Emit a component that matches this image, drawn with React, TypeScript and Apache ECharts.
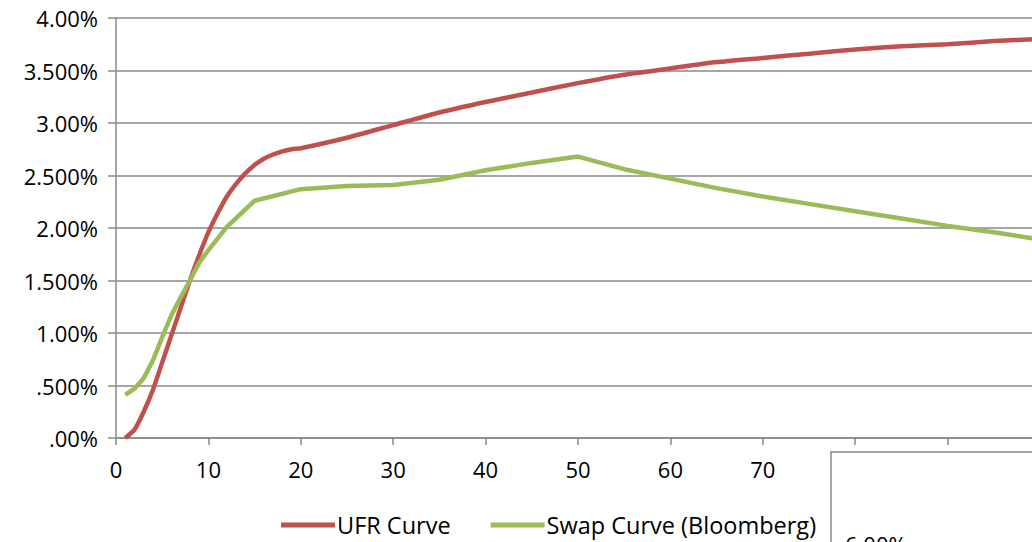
import React, { useEffect, useRef } from "react";
import * as echarts from "echarts";

// Maturities (years) and rates (%) for the UFR-extrapolated curve
const ufrYears = [1, 2, 3, 4, 5, 6, 7, 8, 9, 10, 11, 12, 13, 14, 15, 16, 17, 18, 19, 20, 25, 30, 35, 40, 45, 50, 55, 60, 65, 70, 75, 80, 85, 90, 95, 100];
const ufrRates = [0.0, 0.08, 0.25, 0.46, 0.72, 0.98, 1.24, 1.5, 1.74, 1.96, 2.14, 2.3, 2.42, 2.52, 2.6, 2.66, 2.7, 2.73, 2.75, 2.76, 2.86, 2.98, 3.1, 3.2, 3.29, 3.38, 3.46, 3.52, 3.58, 3.62, 3.66, 3.7, 3.73, 3.75, 3.78, 3.8];

// Market swap curve quoted by Bloomberg
const swapYears = [1, 2, 3, 4, 5, 6, 7, 8, 9, 10, 12, 15, 20, 25, 30, 35, 40, 45, 50, 55, 60, 65, 70, 75, 80, 85, 90, 95, 100];
const swapRates = [0.41, 0.47, 0.57, 0.74, 0.96, 1.17, 1.34, 1.5, 1.67, 1.79, 2.01, 2.26, 2.37, 2.4, 2.41, 2.46, 2.55, 2.62, 2.68, 2.56, 2.47, 2.38, 2.3, 2.23, 2.16, 2.09, 2.02, 1.96, 1.89];

const yTickLabels = [".00%", ".500%", "1.00%", "1.500%", "2.00%", "2.500%", "3.00%", "3.500%", "4.00%"];
const xTickLabels = ["0", "10", "20", "30", "40", "50", "60", "70", "80", "90", ""];

const seriesNames = ["UFR Curve", "Swap Curve (Bloomberg)"];

const FONT = "'Open Sans', sans-serif";
const GRID_GRAY = "#898989";

// The canvas is wider than the window so the plot runs past the right edge.
const CANVAS_W = 1080;
const CANVAS_H = 542;

export default function App() {
  const ref = useRef<HTMLDivElement>(null);

  useEffect(() => {
    if (!ref.current) return;
    const chart = echarts.init(ref.current, undefined, { renderer: "svg" });
    chart.setOption({
      animation: false,
      backgroundColor: "#ffffff",
      textStyle: { fontFamily: FONT },
      grid: { left: 116, top: 18, right: CANVAS_W - 1040, bottom: 104, containLabel: false },
      legend: {
        bottom: 0,
        left: 276,
        icon: "rect",
        itemWidth: 54,
        itemHeight: 5,
        itemGap: 40,
        textStyle: { fontFamily: FONT, fontSize: 23.5, color: "#000", padding: [0, 0, 0, -3] },
        data: seriesNames,
      },
      xAxis: {
        type: "value",
        min: 0,
        max: 100,
        interval: 10,
        axisLine: { show: true, lineStyle: { color: GRID_GRAY, width: 1.5 } },
        axisTick: { show: true, length: 7, lineStyle: { color: GRID_GRAY, width: 1.5 } },
        axisLabel: {
          color: "#000",
          fontSize: 22,
          fontFamily: FONT,
          margin: 20,
          formatter: (v: number) => xTickLabels[Math.round(v / 10)] ?? "",
        },
        splitLine: { show: false },
      },
      yAxis: {
        type: "value",
        min: 0,
        max: 4,
        interval: 0.5,
        axisLine: { show: true, lineStyle: { color: GRID_GRAY, width: 1.5 } },
        axisTick: { show: true, length: 8, lineStyle: { color: GRID_GRAY, width: 1.5 } },
        axisLabel: {
          color: "#000",
          fontSize: 22,
          fontFamily: FONT,
          margin: 18,
          formatter: (v: number) => yTickLabels[Math.round(v / 0.5)] ?? "",
        },
        splitLine: { show: true, lineStyle: { color: GRID_GRAY, width: 1.5 } },
      },
      series: [
        {
          name: seriesNames[0],
          type: "line",
          data: ufrYears.map((y, i) => [y, ufrRates[i]]),
          showSymbol: false,
          symbol: "none",
          lineStyle: { color: "#C0504D", width: 4.5 },
          itemStyle: { color: "#C0504D" },
          smooth: 0.2,
        },
        {
          name: seriesNames[1],
          type: "line",
          data: swapYears.map((y, i) => [y, swapRates[i]]),
          showSymbol: false,
          symbol: "none",
          lineStyle: { color: "#9BBB59", width: 4.5 },
          itemStyle: { color: "#9BBB59" },
        },
      ],
      graphic: [
        // Neighbouring chart panel overlapping the lower right corner
        {
          type: "rect",
          z: 100,
          shape: { x: 831, y: 452, width: 300, height: 150 },
          style: { fill: "#ffffff", stroke: GRID_GRAY, lineWidth: 1.5 },
        },
        {
          type: "text",
          z: 101,
          x: 845,
          y: 533,
          style: { text: "6.00%", font: `22px ${FONT}`, fill: "#000", textVerticalAlign: "top" },
        },
      ],
    });
    return () => chart.dispose();
  }, []);

  return (
    <div
      ref={ref}
      style={{ position: "fixed", left: 0, top: 0, width: CANVAS_W, height: CANVAS_H, background: "#fff" }}
    />
  );
}
